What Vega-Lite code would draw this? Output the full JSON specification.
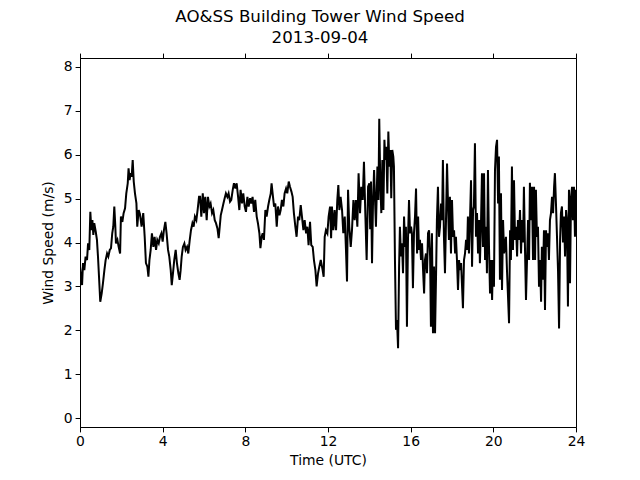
{
  "$schema": "https://vega.github.io/schema/vega-lite/v6.json",
  "width": 496,
  "height": 369,
  "autosize": {"type": "none"},
  "padding": {"left": 80, "top": 58, "right": 64, "bottom": 53},
  "background": "white",
  "title": {
    "text": ["AO&SS Building Tower Wind Speed", "2013-09-04"],
    "font": "DejaVu Sans",
    "fontSize": 16.67,
    "fontWeight": "normal",
    "color": "black",
    "anchor": "middle",
    "lineHeight": 21,
    "offset": 6,
    "dx": -8
  },
  "config": {
    "view": {"stroke": "black", "strokeWidth": 1},
    "axis": {
      "domainColor": "black",
      "tickColor": "black",
      "labelColor": "black",
      "titleColor": "black",
      "labelFont": "DejaVu Sans",
      "titleFont": "DejaVu Sans",
      "labelFontSize": 13.9,
      "titleFontSize": 13.9,
      "titleFontWeight": "normal",
      "tickSize": 4.9,
      "labelPadding": 3,
      "labelFlush": false,
      "labelOverlap": false,
      "grid": false
    }
  },
  "data": {
    "values": [
      {"t": 0, "v": 3.45}, {"t": 0.05, "v": 3.22}, {"t": 0.10, "v": 3.03}, {"t": 0.145, "v": 3.53}, {"t": 0.21, "v": 3.37}, {"t": 0.27, "v": 3.68}, {"t": 0.34, "v": 3.60}, {"t": 0.39, "v": 3.98}, {"t": 0.45, "v": 3.83}, {"t": 0.50, "v": 4.70}, {"t": 0.55, "v": 4.28}, {"t": 0.60, "v": 4.51}, {"t": 0.645, "v": 4.17}, {"t": 0.69, "v": 4.44}, {"t": 0.76, "v": 4.25}, {"t": 0.82, "v": 4.06}, {"t": 0.87, "v": 3.68}, {"t": 0.92, "v": 3.22}, {"t": 0.98, "v": 2.65}, {"t": 1.05, "v": 2.84}, {"t": 1.11, "v": 3.07}, {"t": 1.18, "v": 3.37}, {"t": 1.24, "v": 3.60}, {"t": 1.31, "v": 3.75}, {"t": 1.37, "v": 3.68}, {"t": 1.44, "v": 3.83}, {"t": 1.50, "v": 3.87}, {"t": 1.56, "v": 4.21}, {"t": 1.61, "v": 4.36}, {"t": 1.66, "v": 4.82}, {"t": 1.71, "v": 4.36}, {"t": 1.74, "v": 3.98}, {"t": 1.81, "v": 4.06}, {"t": 1.87, "v": 3.90}, {"t": 1.94, "v": 3.75}, {"t": 1.98, "v": 4.59}, {"t": 2.05, "v": 4.47}, {"t": 2.11, "v": 4.67}, {"t": 2.18, "v": 4.78}, {"t": 2.24, "v": 5.12}, {"t": 2.31, "v": 5.35}, {"t": 2.35, "v": 5.69}, {"t": 2.40, "v": 5.42}, {"t": 2.45, "v": 5.58}, {"t": 2.50, "v": 5.50}, {"t": 2.55, "v": 5.88}, {"t": 2.60, "v": 5.39}, {"t": 2.66, "v": 5.12}, {"t": 2.73, "v": 4.89}, {"t": 2.77, "v": 4.36}, {"t": 2.84, "v": 4.74}, {"t": 2.90, "v": 4.65},
      {"t": 2.98, "v": 4.36}, {"t": 3.06, "v": 4.67}, {"t": 3.13, "v": 4.13}, {"t": 3.19, "v": 3.53}, {"t": 3.26, "v": 3.45}, {"t": 3.31, "v": 3.22}, {"t": 3.36, "v": 3.60}, {"t": 3.42, "v": 3.83}, {"t": 3.48, "v": 4.21}, {"t": 3.55, "v": 3.90}, {"t": 3.61, "v": 4.13}, {"t": 3.68, "v": 3.83}, {"t": 3.74, "v": 4.06}, {"t": 3.81, "v": 3.98}, {"t": 3.87, "v": 4.13}, {"t": 3.94, "v": 4.21}, {"t": 4.00, "v": 4.02}, {"t": 4.06, "v": 4.28}, {"t": 4.13, "v": 4.47}, {"t": 4.19, "v": 4.21}, {"t": 4.26, "v": 3.83}, {"t": 4.32, "v": 3.68}, {"t": 4.39, "v": 3.37}, {"t": 4.44, "v": 3.03}, {"t": 4.50, "v": 3.30}, {"t": 4.56, "v": 3.60}, {"t": 4.63, "v": 3.83}, {"t": 4.69, "v": 3.53}, {"t": 4.76, "v": 3.30}, {"t": 4.82, "v": 3.15}, {"t": 4.87, "v": 3.37}, {"t": 4.92, "v": 3.68}, {"t": 4.98, "v": 3.90}, {"t": 5.05, "v": 3.98}, {"t": 5.11, "v": 3.83}, {"t": 5.18, "v": 3.90}, {"t": 5.24, "v": 3.75}, {"t": 5.31, "v": 4.06}, {"t": 5.37, "v": 4.28}, {"t": 5.44, "v": 4.44}, {"t": 5.50, "v": 4.36}, {"t": 5.56, "v": 4.59}, {"t": 5.63, "v": 4.51}, {"t": 5.69, "v": 4.74}, {"t": 5.76, "v": 5.04}, {"t": 5.81, "v": 5.04},
      {"t": 5.87, "v": 4.59}, {"t": 5.94, "v": 5.12}, {"t": 6.00, "v": 4.67}, {"t": 6.06, "v": 5.04}, {"t": 6.13, "v": 4.51}, {"t": 6.19, "v": 5.04}, {"t": 6.26, "v": 4.82}, {"t": 6.32, "v": 4.89}, {"t": 6.39, "v": 4.67}, {"t": 6.45, "v": 4.74}, {"t": 6.52, "v": 4.51}, {"t": 6.58, "v": 4.44}, {"t": 6.65, "v": 4.32}, {"t": 6.71, "v": 4.10}, {"t": 6.74, "v": 4.25}, {"t": 6.81, "v": 4.62}, {"t": 6.87, "v": 4.74}, {"t": 6.94, "v": 4.89}, {"t": 7.00, "v": 5.01}, {"t": 7.06, "v": 5.12}, {"t": 7.13, "v": 5.04}, {"t": 7.19, "v": 5.12}, {"t": 7.26, "v": 4.93}, {"t": 7.32, "v": 4.97}, {"t": 7.39, "v": 5.20}, {"t": 7.45, "v": 5.35}, {"t": 7.52, "v": 5.23}, {"t": 7.58, "v": 5.35}, {"t": 7.65, "v": 5.04}, {"t": 7.71, "v": 4.74}, {"t": 7.77, "v": 5.20}, {"t": 7.84, "v": 4.89}, {"t": 7.90, "v": 5.12}, {"t": 7.97, "v": 4.82}, {"t": 8.03, "v": 4.70}, {"t": 8.10, "v": 5.04}, {"t": 8.16, "v": 4.82}, {"t": 8.23, "v": 5.01}, {"t": 8.29, "v": 4.89}, {"t": 8.35, "v": 5.04}, {"t": 8.42, "v": 4.70}, {"t": 8.48, "v": 4.97}, {"t": 8.55, "v": 4.59}, {"t": 8.61, "v": 4.44}, {"t": 8.68, "v": 4.21}, {"t": 8.73, "v": 3.87},
      {"t": 8.79, "v": 4.13}, {"t": 8.84, "v": 4.21}, {"t": 8.90, "v": 4.06}, {"t": 8.97, "v": 4.74}, {"t": 9.03, "v": 4.59}, {"t": 9.10, "v": 4.82}, {"t": 9.16, "v": 4.97}, {"t": 9.23, "v": 5.12}, {"t": 9.27, "v": 5.35}, {"t": 9.32, "v": 5.12}, {"t": 9.39, "v": 4.82}, {"t": 9.45, "v": 4.89}, {"t": 9.52, "v": 4.36}, {"t": 9.58, "v": 4.82}, {"t": 9.65, "v": 4.62}, {"t": 9.71, "v": 4.74}, {"t": 9.77, "v": 4.97}, {"t": 9.84, "v": 4.82}, {"t": 9.90, "v": 5.12}, {"t": 9.97, "v": 5.23}, {"t": 10.03, "v": 5.12}, {"t": 10.10, "v": 5.39}, {"t": 10.16, "v": 5.27}, {"t": 10.23, "v": 5.16}, {"t": 10.29, "v": 5.04}, {"t": 10.35, "v": 4.67}, {"t": 10.42, "v": 4.36}, {"t": 10.48, "v": 4.13}, {"t": 10.55, "v": 4.59}, {"t": 10.61, "v": 4.51}, {"t": 10.68, "v": 4.85}, {"t": 10.74, "v": 4.59}, {"t": 10.81, "v": 4.28}, {"t": 10.87, "v": 4.51}, {"t": 10.94, "v": 4.21}, {"t": 11.00, "v": 4.36}, {"t": 11.06, "v": 3.94}, {"t": 11.13, "v": 4.47}, {"t": 11.19, "v": 3.94}, {"t": 11.26, "v": 3.90}, {"t": 11.32, "v": 3.60}, {"t": 11.39, "v": 3.37}, {"t": 11.45, "v": 3.00}, {"t": 11.52, "v": 3.30}, {"t": 11.58, "v": 3.45}, {"t": 11.65, "v": 3.60},
      {"t": 11.74, "v": 3.37}, {"t": 11.79, "v": 3.22}, {"t": 11.84, "v": 4.13}, {"t": 11.90, "v": 4.28}, {"t": 11.97, "v": 4.21}, {"t": 12.03, "v": 4.59}, {"t": 12.10, "v": 4.82}, {"t": 12.15, "v": 4.10}, {"t": 12.19, "v": 4.82}, {"t": 12.26, "v": 4.28}, {"t": 12.32, "v": 4.74}, {"t": 12.39, "v": 4.28}, {"t": 12.45, "v": 4.97}, {"t": 12.50, "v": 5.31}, {"t": 12.55, "v": 4.74}, {"t": 12.61, "v": 5.04}, {"t": 12.68, "v": 4.74}, {"t": 12.74, "v": 4.21}, {"t": 12.81, "v": 4.59}, {"t": 12.87, "v": 3.83}, {"t": 12.92, "v": 3.11}, {"t": 12.97, "v": 5.20}, {"t": 13.03, "v": 4.36}, {"t": 13.10, "v": 3.90}, {"t": 13.16, "v": 4.28}, {"t": 13.23, "v": 4.97}, {"t": 13.29, "v": 4.51}, {"t": 13.35, "v": 4.97}, {"t": 13.42, "v": 4.36}, {"t": 13.48, "v": 5.58}, {"t": 13.55, "v": 4.67}, {"t": 13.61, "v": 5.27}, {"t": 13.68, "v": 4.97}, {"t": 13.74, "v": 5.84}, {"t": 13.81, "v": 4.59}, {"t": 13.87, "v": 3.60}, {"t": 13.94, "v": 5.27}, {"t": 14.00, "v": 5.35}, {"t": 14.04, "v": 4.30},
      {"t": 14.08, "v": 5.39}, {"t": 14.13, "v": 3.53}, {"t": 14.18, "v": 4.97}, {"t": 14.23, "v": 5.65}, {"t": 14.27, "v": 5.04}, {"t": 14.32, "v": 4.36}, {"t": 14.39, "v": 5.73}, {"t": 14.44, "v": 4.97}, {"t": 14.48, "v": 6.82}, {"t": 14.53, "v": 5.35}, {"t": 14.58, "v": 4.67}, {"t": 14.63, "v": 5.88}, {"t": 14.68, "v": 4.74}, {"t": 14.73, "v": 6.34}, {"t": 14.77, "v": 5.88}, {"t": 14.82, "v": 6.18}, {"t": 14.87, "v": 5.12}, {"t": 14.92, "v": 6.53}, {"t": 14.97, "v": 5.73}, {"t": 15.02, "v": 6.11}, {"t": 15.06, "v": 5.01}, {"t": 15.11, "v": 6.11}, {"t": 15.16, "v": 5.96}, {"t": 15.19, "v": 5.73}, {"t": 15.24, "v": 3.60}, {"t": 15.29, "v": 2.01}, {"t": 15.34, "v": 2.23}, {"t": 15.39, "v": 1.59}, {"t": 15.44, "v": 3.45}, {"t": 15.48, "v": 4.36}, {"t": 15.53, "v": 3.68}, {"t": 15.58, "v": 3.98}, {"t": 15.63, "v": 3.30}, {"t": 15.68, "v": 4.59}, {"t": 15.73, "v": 3.90}, {"t": 15.77, "v": 4.36}, {"t": 15.82, "v": 2.08}, {"t": 15.87, "v": 4.06}, {"t": 15.92, "v": 4.97}, {"t": 15.97, "v": 4.21}, {"t": 16.02, "v": 4.36}, {"t": 16.06, "v": 4.21}, {"t": 16.11, "v": 2.96}, {"t": 16.16, "v": 4.21}, {"t": 16.21, "v": 4.59}, {"t": 16.26, "v": 5.23}, {"t": 16.31, "v": 3.75}, {"t": 16.36, "v": 4.59}, {"t": 16.40, "v": 3.83}, {"t": 16.45, "v": 4.06}, {"t": 16.50, "v": 3.60}, {"t": 16.55, "v": 3.98}, {"t": 16.60, "v": 3.37}, {"t": 16.65, "v": 2.84}, {"t": 16.69, "v": 3.60}, {"t": 16.74, "v": 3.75}, {"t": 16.79, "v": 3.30}, {"t": 16.84, "v": 4.21}, {"t": 16.89, "v": 4.28}, {"t": 16.94, "v": 3.68}, {"t": 16.98, "v": 2.08}, {"t": 17.03, "v": 4.21}, {"t": 17.08, "v": 1.93},
      {"t": 17.13, "v": 3.45}, {"t": 17.18, "v": 1.93}, {"t": 17.23, "v": 3.30}, {"t": 17.27, "v": 4.51}, {"t": 17.32, "v": 5.27}, {"t": 17.37, "v": 4.13}, {"t": 17.42, "v": 4.36}, {"t": 17.47, "v": 4.89}, {"t": 17.52, "v": 4.51}, {"t": 17.56, "v": 5.88}, {"t": 17.61, "v": 4.13}, {"t": 17.66, "v": 3.30}, {"t": 17.71, "v": 4.51}, {"t": 17.76, "v": 5.80}, {"t": 17.81, "v": 4.82}, {"t": 17.85, "v": 4.06}, {"t": 17.90, "v": 5.04}, {"t": 17.95, "v": 3.75}, {"t": 18.00, "v": 4.97}, {"t": 18.05, "v": 4.13}, {"t": 18.10, "v": 4.28}, {"t": 18.15, "v": 3.75}, {"t": 18.19, "v": 4.13}, {"t": 18.24, "v": 3.60}, {"t": 18.29, "v": 2.92}, {"t": 18.34, "v": 3.60}, {"t": 18.39, "v": 3.37}, {"t": 18.44, "v": 3.53}, {"t": 18.48, "v": 3.07}, {"t": 18.53, "v": 2.50}, {"t": 18.58, "v": 3.60}, {"t": 18.63, "v": 3.75}, {"t": 18.68, "v": 4.06}, {"t": 18.73, "v": 3.83}, {"t": 18.77, "v": 4.59}, {"t": 18.82, "v": 3.75}, {"t": 18.87, "v": 4.51}, {"t": 18.92, "v": 5.42}, {"t": 18.97, "v": 3.45}, {"t": 19.02, "v": 4.74}, {"t": 19.06, "v": 4.82}, {"t": 19.11, "v": 6.26}, {"t": 19.16, "v": 4.13}, {"t": 19.21, "v": 4.67}, {"t": 19.26, "v": 3.75}, {"t": 19.31, "v": 4.51}, {"t": 19.35, "v": 3.53}, {"t": 19.40, "v": 4.36}, {"t": 19.45, "v": 5.58}, {"t": 19.50, "v": 3.90},
      {"t": 19.55, "v": 5.58}, {"t": 19.60, "v": 3.60}, {"t": 19.65, "v": 4.36}, {"t": 19.69, "v": 3.30}, {"t": 19.74, "v": 5.65}, {"t": 19.79, "v": 3.90}, {"t": 19.84, "v": 2.84}, {"t": 19.89, "v": 3.60}, {"t": 19.94, "v": 2.69}, {"t": 19.98, "v": 3.60}, {"t": 20.03, "v": 2.99}, {"t": 20.08, "v": 5.65}, {"t": 20.13, "v": 6.18}, {"t": 20.18, "v": 6.34}, {"t": 20.23, "v": 4.89}, {"t": 20.27, "v": 5.96}, {"t": 20.32, "v": 3.15}, {"t": 20.37, "v": 5.12}, {"t": 20.42, "v": 2.92}, {"t": 20.47, "v": 4.51}, {"t": 20.52, "v": 3.75}, {"t": 20.56, "v": 3.90}, {"t": 20.61, "v": 4.13}, {"t": 20.66, "v": 3.37}, {"t": 20.71, "v": 2.77}, {"t": 20.76, "v": 2.16}, {"t": 20.81, "v": 4.28}, {"t": 20.85, "v": 3.60}, {"t": 20.90, "v": 5.73}, {"t": 20.95, "v": 3.83}, {"t": 21.00, "v": 5.42}, {"t": 21.05, "v": 4.06}, {"t": 21.10, "v": 4.36}, {"t": 21.15, "v": 3.68}, {"t": 21.19, "v": 4.51}, {"t": 21.24, "v": 4.06}, {"t": 21.29, "v": 4.74}, {"t": 21.34, "v": 3.75}, {"t": 21.39, "v": 4.51}, {"t": 21.44, "v": 4.00}, {"t": 21.48, "v": 5.27}, {"t": 21.53, "v": 3.90}, {"t": 21.58, "v": 2.69}, {"t": 21.63, "v": 3.60}, {"t": 21.68, "v": 4.51}, {"t": 21.73, "v": 3.60}, {"t": 21.77, "v": 5.36}, {"t": 21.82, "v": 4.51}, {"t": 21.87, "v": 5.27}, {"t": 21.92, "v": 3.60},
      {"t": 21.97, "v": 5.27}, {"t": 22.02, "v": 3.60}, {"t": 22.06, "v": 5.20}, {"t": 22.11, "v": 4.13}, {"t": 22.16, "v": 4.36}, {"t": 22.21, "v": 2.99}, {"t": 22.26, "v": 3.60}, {"t": 22.31, "v": 2.65}, {"t": 22.35, "v": 3.90}, {"t": 22.40, "v": 3.15}, {"t": 22.45, "v": 4.28}, {"t": 22.50, "v": 2.46}, {"t": 22.55, "v": 4.28}, {"t": 22.60, "v": 3.90}, {"t": 22.65, "v": 4.21}, {"t": 22.69, "v": 3.60}, {"t": 22.74, "v": 4.51}, {"t": 22.79, "v": 4.67}, {"t": 22.84, "v": 5.04}, {"t": 22.89, "v": 4.67}, {"t": 22.94, "v": 5.27}, {"t": 22.98, "v": 5.58}, {"t": 23.03, "v": 4.89}, {"t": 23.08, "v": 4.13}, {"t": 23.13, "v": 3.37}, {"t": 23.18, "v": 2.04}, {"t": 23.23, "v": 4.06}, {"t": 23.27, "v": 4.67}, {"t": 23.32, "v": 4.82}, {"t": 23.37, "v": 4.00}, {"t": 23.42, "v": 4.59}, {"t": 23.47, "v": 3.68}, {"t": 23.52, "v": 4.74}, {"t": 23.56, "v": 4.51}, {"t": 23.61, "v": 2.54}, {"t": 23.66, "v": 5.20}, {"t": 23.71, "v": 3.07}, {"t": 23.76, "v": 5.04}, {"t": 23.81, "v": 5.27}, {"t": 23.85, "v": 4.51}, {"t": 23.90, "v": 5.27}, {"t": 23.95, "v": 4.13}, {"t": 23.98, "v": 5.20}
    ]
  },
  "layer": [
    {
      "mark": {"type": "line", "color": "black", "strokeWidth": 2, "clip": true},
      "encoding": {
        "x": {
          "field": "t", "type": "quantitative",
          "scale": {"domain": [0, 24], "nice": false, "zero": false},
          "axis": {"values": [0, 4, 8, 12, 16, 20, 24], "title": "Time (UTC)", "titlePadding": 5, "orient": "bottom"}
        },
        "y": {
          "field": "v", "type": "quantitative",
          "scale": {"domain": [-0.205, 8.205], "nice": false, "zero": false},
          "axis": {"values": [0, 1, 2, 3, 4, 5, 6, 7, 8], "title": "Wind Speed (m/s)", "titlePadding": 8}
        }
      }
    },
    {
      "mark": {"type": "line", "opacity": 0},
      "encoding": {
        "x": {
          "field": "t", "type": "quantitative",
          "axis": {"orient": "top", "values": [0, 4, 8, 12, 16, 20, 24], "labels": false, "title": null}
        },
        "y": {"field": "v", "type": "quantitative"}
      }
    }
  ],
  "resolve": {"axis": {"x": "independent"}}
}
